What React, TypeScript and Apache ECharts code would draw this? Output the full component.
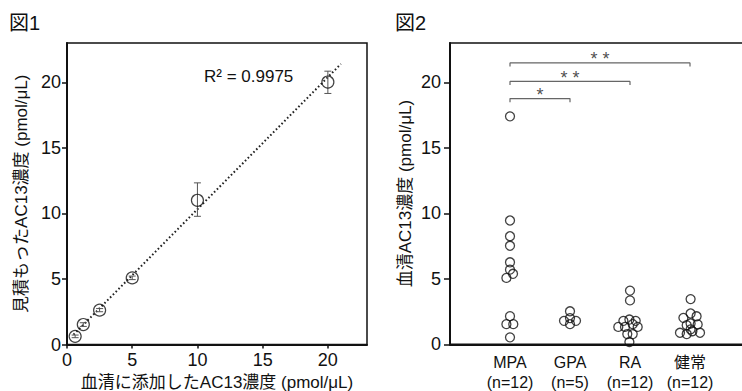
import React, { useEffect, useRef } from "react";
import * as echarts from "echarts";

const FONT = '"Liberation Sans", Arial, "Noto Sans CJK JP", sans-serif';

// Figure 1: spiked vs. estimated concentration
const spikedX = [0.625, 1.25, 2.5, 5, 10, 20];
const measuredY = [0.62, 1.52, 2.62, 5.08, 11.0, 20.02];
const errLow = [0.52, 1.38, 2.5, 4.95, 9.78, 19.15];
const errHigh = [0.72, 1.66, 2.74, 5.22, 12.33, 20.85];
const fitStart = [0.5, 0.75];
const fitEnd = [21.0, 21.4];
const r2Text = "R² = 0.9975";
const ticks1 = [0, 5, 10, 15, 20];

// Figure 2: serum AC13 by group
const groups = ["MPA", "GPA", "RA", "健常"];
const groupN = ["(n=12)", "(n=5)", "(n=12)", "(n=12)"];
const mpaY = [17.4, 9.45, 8.25, 7.52, 6.26, 5.7, 5.38, 5.07, 2.15, 1.54, 1.54, 0.53];
const mpaDx = [0, 0, 0, 0, 0, 0, 0.05, -0.06, 0, -0.06, 0.055, 0];
const gpaY = [2.52, 2.0, 1.79, 1.79, 1.54];
const gpaDx = [0, 0, -0.1, 0.1, 0];
const raY = [4.1, 3.35, 1.89, 1.79, 1.79, 1.54, 1.33, 1.33, 1.33, 0.78, 0.78, 0.17];
const raDx = [0, 0, -0.01, -0.11, 0.095, 0.045, -0.195, -0.083, 0.128, -0.045, 0.045, -0.01];
const healthyY = [3.45, 2.35, 2.02, 2.14, 1.46, 1.59, 1.52, 0.88, 0.78, 1.0, 0.88, 1.14];
const healthyDx = [0.01, 0.01, -0.11, 0.11, -0.055, 0.01, 0.128, -0.167, -0.055, 0.04, 0.167, 0.01];

// significance brackets: [from group, to group, bracket height, label]
const brackets: [number, number, number, string][] = [
  [1, 2, 18.76, "*"],
  [1, 3, 20.07, "* *"],
  [1, 4, 21.48, "* *"],
];
const bracketDrop = 0.28;
const ticks2 = [0, 5, 10, 15, 20];

function groupPoints(idx: number, ys: number[], dx: number[]) {
  return ys.map((y, i) => [idx + dx[i], y]);
}

export default function App() {
  const ref = useRef<HTMLDivElement>(null);
  useEffect(() => {
    if (!ref.current) return;
    const chart = echarts.init(ref.current, undefined, { renderer: "svg" });

    const bracketSeries = brackets.map((b) => ({
      type: "line",
      xAxisIndex: 1,
      yAxisIndex: 1,
      symbol: "none",
      lineStyle: { color: "#666", width: 1.2 },
      data: [
        [b[0], b[2] - bracketDrop],
        [b[0], b[2]],
        [b[1], b[2]],
        [b[1], b[2] - bracketDrop],
      ],
      z: 3,
    }));

    const dotStyle = {
      color: "rgba(255,255,255,0)",
      borderColor: "#111",
      borderWidth: 1.3,
    };

    const tickFont = { fontSize: 18, color: "#111", fontFamily: FONT };
    const nameFont = { fontSize: 17, color: "#111", fontFamily: FONT };

    const option: any = {
      animation: false,
      textStyle: { color: "#111", fontFamily: FONT },
      grid: [
        {
          left: 67,
          top: 43,
          right: 375,
          bottom: 46.5,
          show: true,
          outerBoundsMode: "none",
          containLabel: false,
          borderColor: "#111",
          borderWidth: 1.5,
          backgroundColor: "transparent",
        },
        {
          left: 450,
          top: 43,
          width: 300,
          bottom: 46.7,
          show: true,
          outerBoundsMode: "none",
          containLabel: false,
          borderColor: "#111",
          borderWidth: 1.5,
          backgroundColor: "transparent",
        },
      ],
      xAxis: [
        {
          gridIndex: 0,
          type: "value",
          min: 0,
          max: 23,
          splitLine: { show: false },
          axisLine: { lineStyle: { color: "#111", width: 2 } },
          axisTick: { show: true, length: 4, customValues: ticks1, lineStyle: { color: "#111", width: 1.5 } },
          axisLabel: { customValues: ticks1, margin: 6, ...tickFont },
          name: "血清に添加したAC13濃度 (pmol/μL)",
          nameLocation: "middle",
          nameGap: 29,
          nameTextStyle: nameFont,
        },
        {
          gridIndex: 1,
          type: "value",
          min: 0,
          max: 5,
          interval: 1,
          splitLine: { show: false },
          axisLine: { lineStyle: { color: "#111", width: 2 } },
          axisTick: { show: false },
          axisLabel: {
            margin: 8,
            fontSize: 16,
            lineHeight: 20,
            color: "#111",
            fontFamily: FONT,
            showMinLabel: false,
            showMaxLabel: false,
            formatter: (v: number) => {
              const i = Math.round(v) - 1;
              return groups[i] !== undefined ? groups[i] + "\n" + groupN[i] : "";
            },
          },
        },
      ],
      yAxis: [
        {
          gridIndex: 0,
          type: "value",
          min: 0,
          max: 23,
          splitLine: { show: false },
          axisLine: { lineStyle: { color: "#111", width: 2 } },
          axisTick: { show: true, length: 5, customValues: ticks1, lineStyle: { color: "#111", width: 1.5 } },
          axisLabel: { customValues: ticks1, margin: 6, ...tickFont },
          name: "見積もったAC13濃度 (pmol/μL)",
          nameLocation: "middle",
          nameGap: 37,
          nameTextStyle: nameFont,
        },
        {
          gridIndex: 1,
          type: "value",
          min: 0,
          max: 23,
          splitLine: { show: false },
          axisLine: { lineStyle: { color: "#111", width: 2 } },
          axisTick: { show: true, length: 6, customValues: ticks2, lineStyle: { color: "#111", width: 1.5 } },
          axisLabel: { customValues: ticks2, margin: 9, ...tickFont },
          name: "血清AC13濃度 (pmol/μL)",
          nameLocation: "middle",
          nameGap: 36,
          nameTextStyle: nameFont,
        },
      ],
      series: [
        {
          type: "line",
          xAxisIndex: 0,
          yAxisIndex: 0,
          symbol: "none",
          lineStyle: { color: "#222", width: 2, type: [1.6, 2.4] },
          data: [fitStart, fitEnd],
          z: 2,
        },
        {
          type: "custom",
          xAxisIndex: 0,
          yAxisIndex: 0,
          data: spikedX.map((x, i) => [x, errLow[i], errHigh[i]]),
          encode: { x: 0, y: [1, 2] },
          renderItem: (params: any, api: any) => {
            const x = api.value(0);
            const lo = api.coord([x, api.value(1)]);
            const hi = api.coord([x, api.value(2)]);
            const w = 3.5;
            const st = { stroke: "#555", lineWidth: 1 };
            return {
              type: "group",
              children: [
                { type: "line", shape: { x1: lo[0], y1: lo[1], x2: hi[0], y2: hi[1] }, style: st },
                { type: "line", shape: { x1: lo[0] - w, y1: lo[1], x2: lo[0] + w, y2: lo[1] }, style: st },
                { type: "line", shape: { x1: hi[0] - w, y1: hi[1], x2: hi[0] + w, y2: hi[1] }, style: st },
              ],
            };
          },
          z: 3,
        },
        {
          type: "scatter",
          xAxisIndex: 0,
          yAxisIndex: 0,
          symbol: "circle",
          symbolSize: 12,
          itemStyle: { color: "rgba(255,255,255,0)", borderColor: "#111", borderWidth: 1.2 },
          data: spikedX.map((x, i) => [x, measuredY[i]]),
          z: 4,
        },
        ...bracketSeries,
        {
          type: "scatter",
          xAxisIndex: 1,
          yAxisIndex: 1,
          symbol: "circle",
          symbolSize: 1,
          itemStyle: { color: "rgba(0,0,0,0)" },
          label: {
            show: true,
            position: "top",
            distance: 0,
            formatter: (p: any) => p.value[2],
            fontSize: 18,
            color: "#222",
            fontFamily: FONT,
          },
          data: brackets.map((b) => [(b[0] + b[1]) / 2, b[2] - 0.45, b[3]]),
          z: 5,
        },
        {
          type: "scatter",
          xAxisIndex: 1,
          yAxisIndex: 1,
          symbol: "circle",
          symbolSize: 9,
          itemStyle: dotStyle,
          data: [
            ...groupPoints(1, mpaY, mpaDx),
            ...groupPoints(2, gpaY, gpaDx),
            ...groupPoints(3, raY, raDx),
            ...groupPoints(4, healthyY, healthyDx),
          ],
          z: 4,
        },
      ],
      graphic: [
        {
          type: "text",
          left: 9,
          top: 13,
          style: { text: "図1", fontSize: 20, fill: "#111", fontFamily: FONT },
        },
        {
          type: "text",
          left: 395,
          top: 13,
          style: { text: "図2", fontSize: 20, fill: "#111", fontFamily: FONT },
        },
        {
          type: "text",
          left: 204,
          top: 68,
          style: { text: r2Text, fontSize: 17, fill: "#111", fontFamily: FONT },
        },
      ],
    };
    chart.setOption(option);
    return () => chart.dispose();
  }, []);

  return (
    <div
      ref={ref}
      style={{ position: "fixed", left: 0, top: 0, width: 742, height: 391, background: "#fff" }}
    />
  );
}
